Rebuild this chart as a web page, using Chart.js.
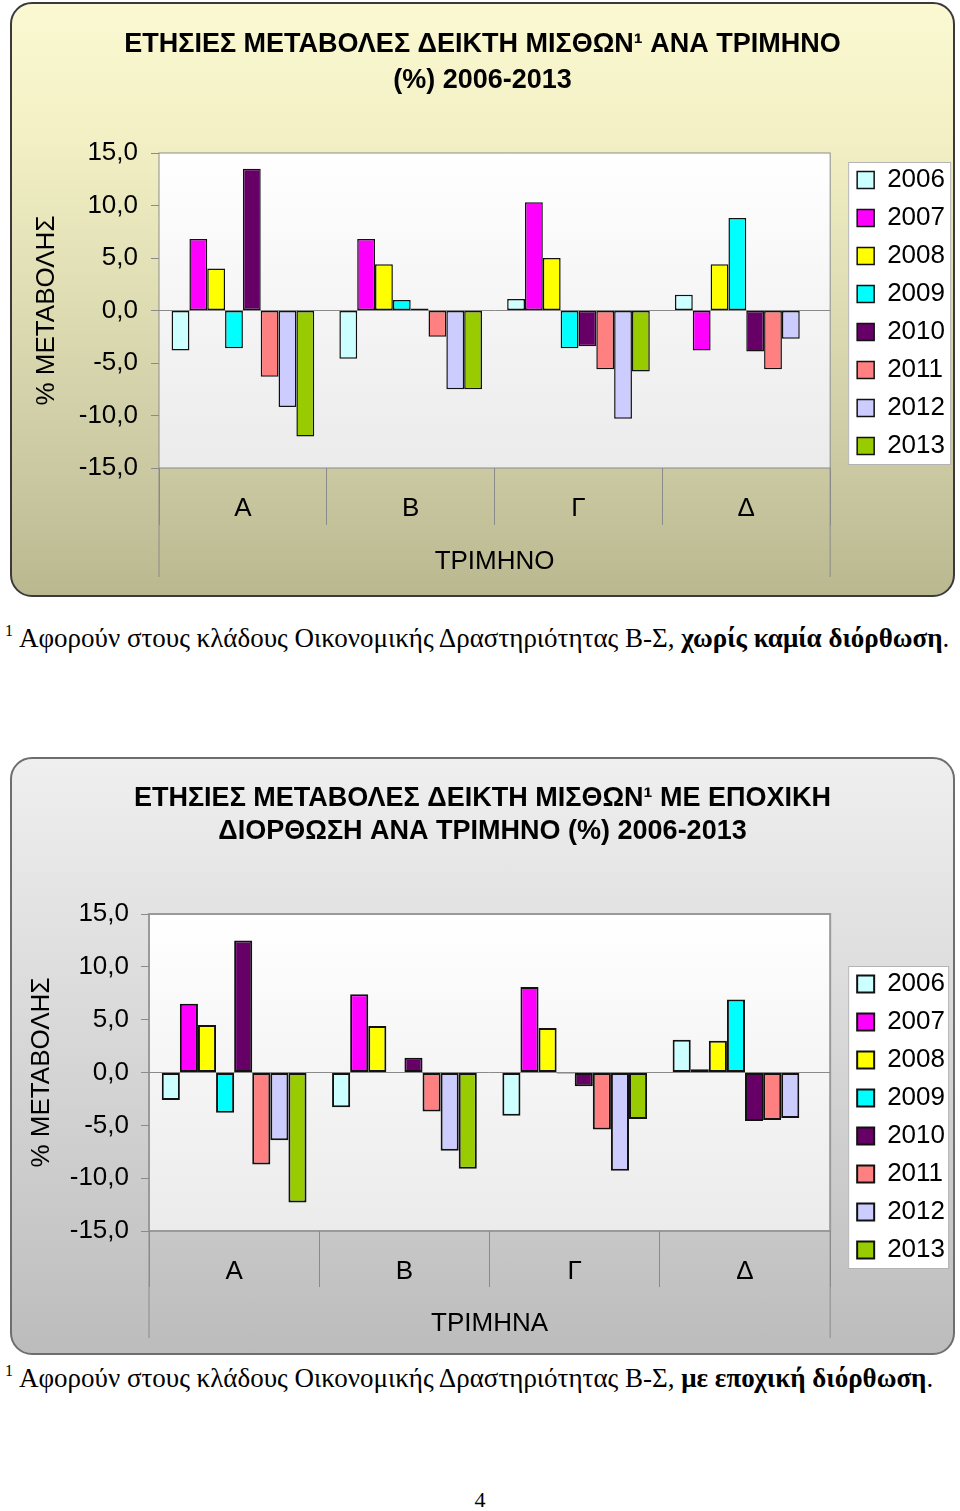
<!DOCTYPE html>
<html>
<head>
<meta charset="utf-8">
<script src="https://cdn.jsdelivr.net/npm/chart.js@4.4.1/dist/chart.umd.min.js"></script>
<style>
body { margin: 0; width: 960px; height: 1511px; background: #fff; position: relative; overflow: hidden; }
.panel { position: absolute; left: 10px; width: 945px; box-sizing: border-box; border-radius: 22px; }
#panel1 { top: 2px; height: 595px; border: 2px solid #3a3a3a; background: linear-gradient(#fbf9d2, #f3f0c5 22%, #c9c8a1 80%, #b9b88f); }
#panel2 { top: 757px; height: 598px; border: 2px solid #6e6e6e; background: linear-gradient(#efefef, #e3e3e3 25%, #c7c7c7 80%, #bcbcbc); }
canvas { position: absolute; left: 10px; }
#c1 { top: 2px; }
#c2 { top: 757px; }
.note { position: absolute; left: 5px; font-family: "Liberation Serif", "Times New Roman", serif; font-size: 27px; white-space: nowrap; color: #000; }
.note sup { font-size: 16px; vertical-align: 11px; margin-right: 6px; }
#note1 { top: 622px; }
#note2 { top: 1362px; }
#page { position: absolute; left: 0; width: 960px; text-align: center; top: 1487px; font-family: "Liberation Serif", serif; font-size: 22px; }
</style>
</head>
<body>
<div class="panel" id="panel1"></div>
<div class="panel" id="panel2"></div>
<canvas id="c1" width="945" height="595"></canvas>
<canvas id="c2" width="945" height="598"></canvas>
<div class="note" id="note1"><sup>1</sup>Αφορούν στους κλάδους Οικονομικής Δραστηριότητας Β-Σ, <b>χωρίς καμία διόρθωση</b>.</div>
<div class="note" id="note2"><sup>1</sup>Αφορούν στους κλάδους Οικονομικής Δραστηριότητας Β-Σ, <b>με εποχική διόρθωση</b>.</div>
<div id="page">4</div>
<script>
const quarters = ['Α', 'Β', 'Γ', 'Δ'];
const years = ['2006', '2007', '2008', '2009', '2010', '2011', '2012', '2013'];
const yearColors = ['#ccffff', '#ff00ff', '#ffff00', '#00ffff', '#660066', '#ff8080', '#ccccff', '#99cc00'];

// χωρίς διόρθωση
const raw2006 = [-3.8, -4.6, 1.1, 1.5];
const raw2007 = [6.8, 6.8, 10.3, -3.8];
const raw2008 = [4.0, 4.4, 5.0, 4.4];
const raw2009 = [-3.6, 1.0, -3.6, 8.8];
const raw2010 = [13.5, 0.2, -3.4, -3.9];
const raw2011 = [-6.3, -2.5, -5.6, -5.6];
const raw2012 = [-9.2, -7.5, -10.3, -2.7];
const raw2013 = [-12.0, -7.5, -5.8, null];

// με εποχική διόρθωση
const sa2006 = [-2.6, -3.3, -4.1, 3.1];
const sa2007 = [6.5, 7.4, 8.1, 0.3];
const sa2008 = [4.5, 4.4, 4.2, 3.0];
const sa2009 = [-3.8, 0.0, -0.1, 6.9];
const sa2010 = [12.5, 1.4, -1.3, -4.6];
const sa2011 = [-8.7, -3.7, -5.4, -4.5];
const sa2012 = [-6.4, -7.4, -9.3, -4.3];
const sa2013 = [-12.3, -9.1, -4.4, null];

const FONT = 'Liberation Sans, Arial, sans-serif';
Chart.defaults.font.family = FONT;
Chart.defaults.color = '#000';

// φόντο περιοχής σχεδίασης, πλαίσιο υπομνήματος, προεκτάσεις γραμμών
const framePlugin = {
    id: 'frame',
    beforeDraw(chart, args, opts) {
        const { ctx, chartArea: a } = chart;
        ctx.save();
        const g = ctx.createLinearGradient(0, a.top, 0, a.bottom);
        g.addColorStop(0, '#ffffff');
        g.addColorStop(1, '#ebebeb');
        ctx.fillStyle = g;
        ctx.fillRect(a.left, a.top, a.right - a.left, a.bottom - a.top);
        ctx.lineWidth = opts.plotLine;
        ctx.strokeStyle = opts.plotColor;
        ctx.strokeRect(a.left, a.top, a.right - a.left, a.bottom - a.top);

        const hb = chart.legend.legendHitBoxes;
        const x0 = hb[0].left - 9;
        const y0 = hb[0].top + hb[0].height / 2 - 18;
        const y1 = hb[hb.length - 1].top + hb[0].height / 2 + 18;
        ctx.fillStyle = '#ffffff';
        ctx.fillRect(x0, y0, opts.legendW, y1 - y0);
        ctx.lineWidth = 1;
        ctx.strokeStyle = '#b4b4b4';
        ctx.strokeRect(x0 + 0.5, y0 + 0.5, opts.legendW, y1 - y0);
        ctx.restore();
    },
    afterDraw(chart, args, opts) {
        const { ctx, chartArea: a } = chart;
        ctx.save();
        ctx.strokeStyle = '#8a8a8a';
        ctx.lineWidth = 1;
        ctx.beginPath();
        [a.left, a.right].forEach(x => {
            ctx.moveTo(x, a.bottom);
            ctx.lineTo(x, a.bottom + opts.drop);
        });
        ctx.stroke();
        ctx.restore();
    }
};

function buildChart(canvasId, series, lay) {
    const ctx = document.getElementById(canvasId).getContext('2d');
    return new Chart(ctx, {
        type: 'bar',
        data: {
            labels: quarters,
            datasets: years.map((y, i) => ({
                label: y,
                data: series[i],
                backgroundColor: yearColors[i],
                borderColor: '#111',
                borderWidth: lay.barBorder,
                borderSkipped: false,
                categoryPercentage: 0.85,
                barPercentage: 1
            }))
        },
        options: {
            responsive: false,
            animation: false,
            layout: { padding: 0 },
            plugins: {
                title: {
                    display: true,
                    text: lay.title,
                    color: '#000',
                    font: { size: 27, weight: 'bold', lineHeight: lay.titleLine + 'px' },
                    padding: { top: lay.titleTop, bottom: lay.titleBottom }
                },
                legend: {
                    position: 'right',
                    labels: { boxWidth: 17, boxHeight: 17, padding: 12, color: '#000', font: { size: 26 } },
                    title: { display: true, text: '', padding: 0, font: { size: 10, lineHeight: lay.legendShift + 'px' } }
                },
                tooltip: { enabled: false },
                frame: { plotLine: lay.plotLine, plotColor: lay.plotColor, legendW: lay.legendW, drop: lay.drop }
            },
            scales: {
                x: {
                    grid: { offset: true, drawOnChartArea: false, color: '#8a8a8a', tickColor: '#8a8a8a', tickLength: lay.divider },
                    border: { display: false },
                    ticks: { color: '#000', font: { size: 26 }, padding: lay.xTickPad, maxRotation: 0, autoSkip: false },
                    title: { display: true, text: lay.xTitle, color: '#000', font: { size: 26 }, padding: { top: 0, bottom: lay.xTitlePad } },
                    afterFit: s => { s.height = lay.xHeight; }
                },
                y: {
                    min: -15,
                    max: 15,
                    ticks: {
                        stepSize: 5,
                        color: '#000',
                        font: { size: 26 },
                        padding: lay.yTickPad,
                        callback: v => v.toFixed(1).replace('.', ',')
                    },
                    grid: {
                        color: c => (c.tick && c.tick.value === 0 ? '#8a8a8a' : 'rgba(0,0,0,0)'),
                        tickColor: '#8a8a8a',
                        tickLength: 8
                    },
                    border: { display: false },
                    title: { display: true, text: '% ΜΕΤΑΒΟΛΗΣ', color: '#000', font: { size: 26 }, padding: { top: lay.yTitlePad, bottom: 0 } },
                    afterFit: s => { s.width = lay.yWidth; }
                },
                gap: {
                    position: 'right',
                    grid: { display: false },
                    ticks: { display: false },
                    border: { display: false },
                    afterFit: s => { s.width = 15; }
                }
            }
        },
        plugins: [framePlugin]
    });
}

buildChart('c1', [raw2006, raw2007, raw2008, raw2009, raw2010, raw2011, raw2012, raw2013], {
    title: ['ΕΤΗΣΙΕΣ ΜΕΤΑΒΟΛΕΣ ΔΕΙΚΤΗ ΜΙΣΘΩΝ¹ ΑΝΑ ΤΡΙΜΗΝΟ', '(%) 2006-2013'],
    titleLine: 36, titleTop: 25, titleBottom: 54,
    legendShift: 27, legendW: 102,
    xTitle: 'ΤΡΙΜΗΝΟ', xHeight: 129, divider: 57, xTickPad: -31.6, xTitlePad: 19.4,
    yWidth: 149, yTickPad: 13, yTitlePad: 21.4,
    plotLine: 1, plotColor: '#8c8c8c', barBorder: 1.5, drop: 109
});

buildChart('c2', [sa2006, sa2007, sa2008, sa2009, sa2010, sa2011, sa2012, sa2013], {
    title: ['ΕΤΗΣΙΕΣ ΜΕΤΑΒΟΛΕΣ ΔΕΙΚΤΗ ΜΙΣΘΩΝ¹ ΜΕ ΕΠΟΧΙΚΗ', 'ΔΙΟΡΘΩΣΗ ΑΝΑ ΤΡΙΜΗΝΟ (%) 2006-2013'],
    titleLine: 33, titleTop: 25.5, titleBottom: 65.5,
    legendShift: 122, legendW: 100,
    xTitle: 'ΤΡΙΜΗΝΑ', xHeight: 124, divider: 56, xTickPad: -30.6, xTitlePad: 15.4,
    yWidth: 139, yTickPad: 12, yTitlePad: 16.4,
    plotLine: 2, plotColor: '#9a9a9a', barBorder: 2, drop: 107
});
</script>
</body>
</html>
